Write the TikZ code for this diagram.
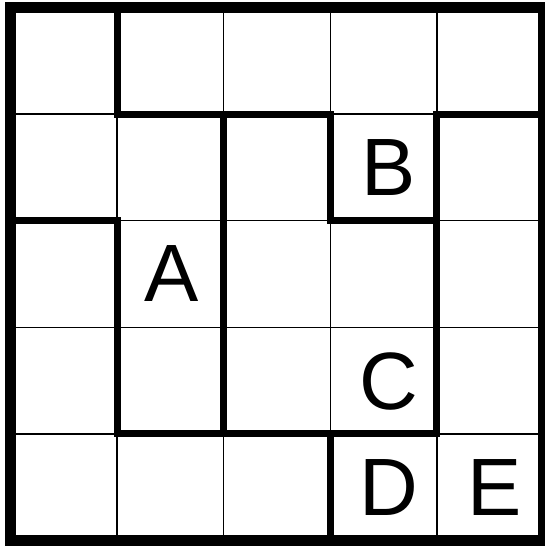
\documentclass[tikz,border=0pt]{standalone}
\usepackage{fontspec}
\setmainfont{Liberation Sans}
\begin{document}
\begin{tikzpicture}[x=0.75pt,y=-0.75pt,
  thinline/.style={line width=1pt,black},
  region/.style={line width=5.25pt,black,line cap=rect,line join=miter},
  outer/.style={line width=8.25pt,black,line join=miter},
  letter/.style={font=\fontsize{61}{61}\selectfont,inner sep=0pt}]
\useasboundingbox (0,0) rectangle (545,546);
\clip (0,0) rectangle (545,546);
\fill[white] (0,0) rectangle (545,546);
% thin grid
\foreach \k in {1,2,3,4}{
  \draw[thinline] ({10.5+106.6*\k},7.5) -- ({10.5+106.6*\k},540.5);
  \draw[thinline] (10.5,{7.5+106.6*\k}) -- (543.5,{7.5+106.6*\k});
}
% region borders
\draw[region] (117.1,7.5) -- (117.1,114.1) -- (330.3,114.1) -- (330.3,220.7) -- (436.9,220.7);
\draw[region] (543.5,114.1) -- (436.9,114.1) -- (436.9,433.9) -- (330.3,433.9) -- (330.3,540.5);
\draw[region] (10.5,220.7) -- (117.1,220.7) -- (117.1,433.9) -- (330.3,433.9);
\draw[region] (223.7,114.1) -- (223.7,433.9);
% outer border
\draw[outer] (10.5,7.5) rectangle (543.5,540.5);
% letters
\node[letter] (A) at (172.0,274.0) {A};
\node[letter] (B) at (388.5,168.0) {B};
\node[letter] (C) at (388.5,381.0) {C};
\node[letter] (D) at (388.5,487.5) {D};
\node[letter] (E) at (495.0,487.5) {E};
\end{tikzpicture}
\end{document}
